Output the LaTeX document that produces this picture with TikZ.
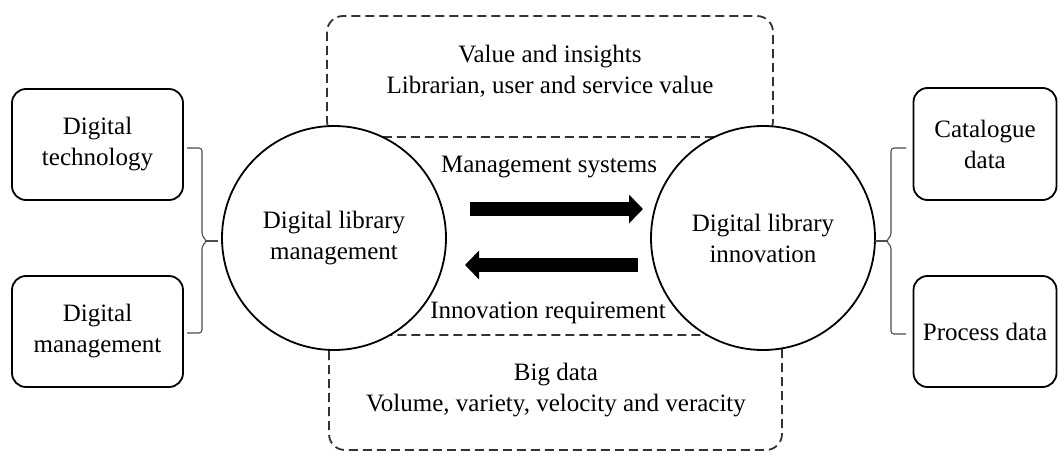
\documentclass[tikz,border=0pt]{standalone}
\usepackage{fontspec}
\setmainfont{Liberation Serif}
\usetikzlibrary{arrows.meta}
\tikzset{
  sidebox/.style={draw, line width=1.8pt, rounded corners=14pt, align=center, inner sep=0pt},
  hub/.style={draw, circle, line width=1.8pt, fill=white, minimum size=224pt, inner sep=0pt, align=center},
  dashbox/.style={draw, line width=1.8pt, black!80, rounded corners=16pt, dash pattern=on 9pt off 5pt},
  lbl/.style={align=center, inner sep=0pt},
  brace/.style={draw, line width=1.1pt, black!70, rounded corners=3pt},
  fatarrow/.style={line width=14pt, -{Triangle[length=14pt,width=28pt]}}
}
\begin{document}
\begin{tikzpicture}[x=1pt,y=-1pt,font=\fontsize{25}{31}\selectfont]
\useasboundingbox (0,0) rectangle (1058,452);
% dashed regions
\draw[dashbox] (327,16) rectangle (773,137);
\draw[dashbox] (329,335) rectangle (782,450);
% hubs
\node[hub] (dlm) at (334,238) {Digital library\\management};
\node[hub] (dli) at (763,238) {Digital library\\innovation};
% side boxes
\node[sidebox, minimum width=171pt, minimum height=111pt] (dt) at (97.5,144.5) {Digital\\technology};
\node[sidebox, minimum width=171pt, minimum height=111pt] (dm) at (97.5,331.5) {Digital\\management};
\node[sidebox, minimum width=143pt, minimum height=112pt] (cd) at (985,144) {Catalogue\\data};
\node[sidebox, minimum width=143pt, minimum height=111pt] (pd) at (985,331.5) {Process data};
% labels
\node[lbl] (vi) at (550,71) {Value and insights\\Librarian, user and service value};
\node[lbl] (ms) at (549,167) {Management systems};
\node[lbl] (ir) at (548,313) {Innovation requirement};
\node[lbl] (bd) at (556,390.5) {Big data\\Volume, variety, velocity and veracity};
% arrows
\coordinate (a1s) at (470,209);
\coordinate (a1e) at (643,209);
\coordinate (a2s) at (638,265);
\coordinate (a2e) at (465,265);
\draw[fatarrow] (a1s) -- (a1e);
\draw[fatarrow] (a2s) -- (a2e);
% left brace
\coordinate (lt) at (187,148);
\coordinate (lb) at (187,333);
\coordinate (lx) at (218,241);
\draw[brace] (lt) -- (202,148) -- (202,236) -- (207,241) -- (202,246) -- (202,333) -- (lb);
\draw[line width=1.1pt, black!70] (206,241) -- (lx);
% right brace
\coordinate (rt) at (906,148);
\coordinate (rb) at (906,334);
\coordinate (rx) at (875,241);
\draw[brace] (rt) -- (891,148) -- (891,236) -- (886,241) -- (891,246) -- (891,334) -- (rb);
\draw[line width=1.1pt, black!70] (887,241) -- (rx);
\end{tikzpicture}
\end{document}
